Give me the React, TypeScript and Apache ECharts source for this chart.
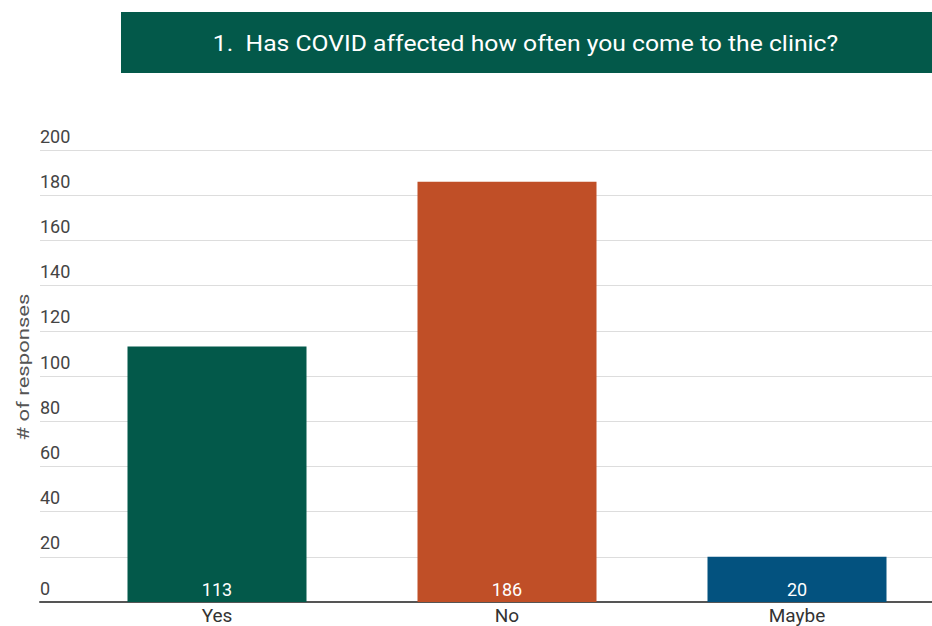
import React, { useEffect, useRef } from "react";
import * as echarts from "echarts";

const titleText = "1.  Has COVID affected how often you come to the clinic?";
const categories = ["Yes", "No", "Maybe"];
const values = [113, 186, 20];
const barColors = ["#03594a", "#c04f27", "#03527f"];
const yMin = 0;
const yMax = 200;
const yInterval = 20;
const yAxisTitle = "# of responses";

export default function App() {
  const ref = useRef<HTMLDivElement>(null);
  useEffect(() => {
    if (!ref.current) return;
    const chart = echarts.init(ref.current, undefined, { renderer: "svg" });
    const font = "Roboto, 'Noto Sans', sans-serif";
    chart.setOption({
      animation: false,
      backgroundColor: "#ffffff",
      graphic: [
        {
          type: "rect",
          shape: { x: 121, y: 12, width: 830, height: 61 },
          style: { fill: "#03594a" },
          silent: true,
        },
        {
          type: "text",
          x: 525.5,
          y: 43,
          scaleX: 1.075,
          style: {
            text: titleText,
            fill: "#ffffff",
            font: `23px ${font}`,
            align: "center",
            verticalAlign: "middle",
          },
          silent: true,
        },
        {
          type: "text",
          x: 23,
          y: 367,
          rotation: Math.PI / 2,
          scaleX: 1.3,
          style: {
            text: yAxisTitle,
            fill: "#555555",
            font: `17px ${font}`,
            align: "center",
            verticalAlign: "middle",
          },
          silent: true,
        },
      ],
      grid: [
        { left: 40, right: 10, top: 150, bottom: 24 },
        { left: 72, right: 0, top: 150, bottom: 24 },
      ],
      xAxis: [
        {
          gridIndex: 0,
          type: "value",
          min: 0,
          max: 1,
          axisLine: { show: true, lineStyle: { color: "#555", width: 2 } },
          axisTick: { show: false },
          axisLabel: { show: false },
          splitLine: { show: false },
        },
        {
          gridIndex: 1,
          type: "category",
          data: categories,
          axisLine: { show: false },
          axisTick: { show: false },
          axisLabel: { color: "#333", fontSize: 19, fontFamily: font, margin: 4 },
          splitLine: { show: false },
        },
      ],
      yAxis: [
        {
          gridIndex: 0,
          type: "value",
          min: yMin,
          max: yMax,
          interval: yInterval,
          axisLine: { show: false },
          axisTick: { show: false },
          axisLabel: {
            inside: true,
            align: "left",
            verticalAlign: "bottom",
            margin: 0,
            padding: [0, 0, 5, 0],
            color: "#444",
            fontSize: 18,
            fontFamily: font,
          },
          splitLine: { show: true, lineStyle: { color: "#dddddd", width: 1 } },
        },
        {
          gridIndex: 1,
          type: "value",
          min: yMin,
          max: yMax,
          interval: yInterval,
          show: false,
        },
      ],
      series: [
        {
          type: "bar",
          xAxisIndex: 1,
          yAxisIndex: 1,
          barWidth: 179,
          data: values.map((v, i) => ({ value: v, itemStyle: { color: barColors[i] } })),
          label: {
            show: true,
            position: "insideBottom",
            distance: 4,
            color: "#ffffff",
            fontSize: 18,
            fontFamily: font,
          },
          z: 3,
        },
      ],
    });
    return () => chart.dispose();
  }, []);
  return (
    <div style={{ position: "absolute", left: 0, top: 0, width: 932, height: 626, overflow: "hidden" }}>
      <div ref={ref} style={{ width: 942, height: 626 }} />
    </div>
  );
}
